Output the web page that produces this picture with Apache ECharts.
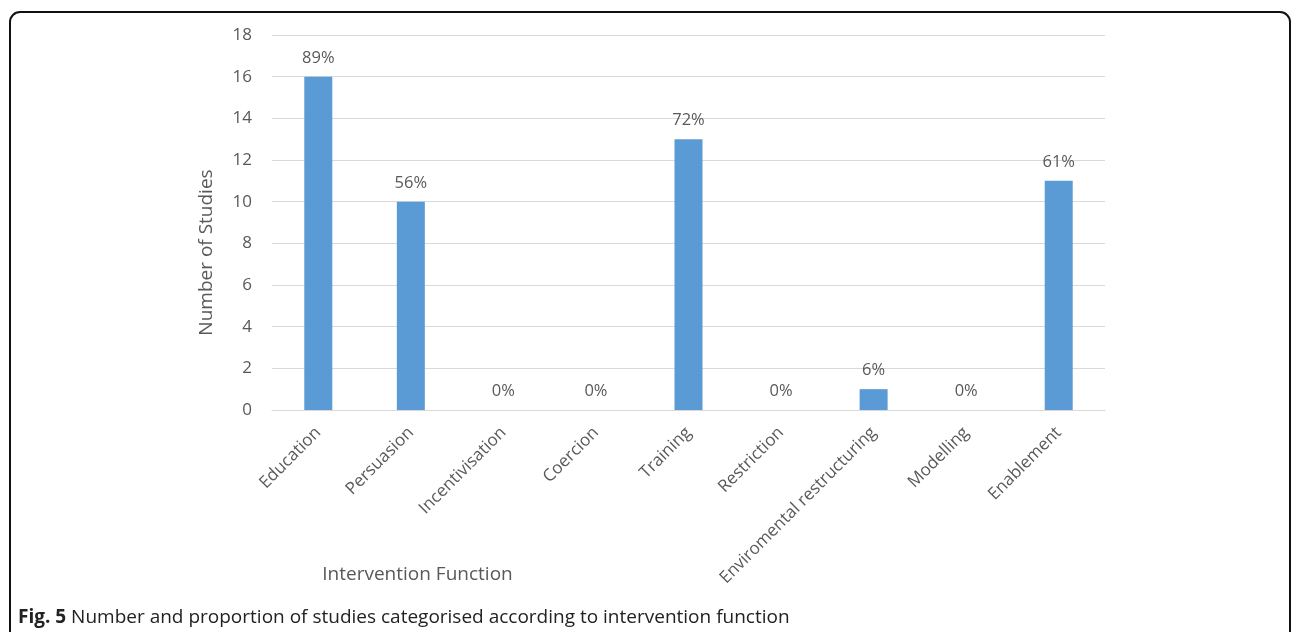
<!DOCTYPE html>
<html>
<head>
<meta charset="utf-8">
<script src="https://cdn.jsdelivr.net/npm/echarts@6/dist/echarts.min.js"></script>
<style>
  html, body { margin: 0; padding: 0; background: #fff; }
  #chart { width: 1292px; height: 632px; }
</style>
</head>
<body>
<div id="chart"></div>
<script>
// categories and values
var categories = ['Education', 'Persuasion', 'Incentivisation', 'Coercion', 'Training',
  'Restriction', 'Enviromental restructuring', 'Modelling', 'Enablement'];
var studyCounts = [16, 10, 0, 0, 13, 0, 1, 0, 11];
var proportions = ['89%', '56%', '0%', '0%', '72%', '0%', '6%', '0%', '61%'];
var yTicks = { min: 0, max: 18, interval: 2 };

var myChart = echarts.init(document.getElementById('chart'));

var textColor = '#595959';
var font = '"Open Sans", "Noto Sans", sans-serif';

var option = {
  animation: false,
  textStyle: { fontFamily: font },
  graphic: [{
    // outer frame with rounded top corners
    type: 'rect',
    shape: { x: 10, y: 12, width: 1280, height: 640, r: [10, 10, 0, 0] },
    style: { fill: 'none', stroke: '#111', lineWidth: 2 },
    z: -1
  }],
  title: [{
    text: '{b|Fig. 5} Number and proportion of studies categorised according to intervention function',
    left: 13,
    top: 603,
    textStyle: {
      fontFamily: font,
      fontSize: 19,
      fontWeight: 'normal',
      color: '#222',
      rich: {
        b: { fontFamily: font, fontSize: 19, fontWeight: 'bold', color: '#222' }
      }
    }
  }],
  grid: { left: 272, right: 187, top: 35, bottom: 222 },
  xAxis: {
    type: 'category',
    data: categories,
    name: 'Intervention Function',
    nameLocation: 'middle',
    nameGap: 155,
    nameMoveOverlap: false,
    nameTextStyle: { fontFamily: font, fontSize: 19, color: textColor, padding: [0, 542, 0, 0] },
    axisLine: { lineStyle: { color: '#d9d9d9', width: 1 } },
    axisTick: { show: false },
    axisLabel: { rotate: 45, fontSize: 17, color: textColor, margin: 20, interval: 0, fontFamily: font }
  },
  yAxis: {
    type: 'value',
    min: yTicks.min,
    max: yTicks.max,
    interval: yTicks.interval,
    name: 'Number of Studies',
    nameLocation: 'middle',
    nameGap: 56,
    nameTextStyle: { fontFamily: font, fontSize: 19, color: textColor, padding: [0, 60, 0, 0] },
    axisLine: { show: false },
    axisTick: { show: false },
    axisLabel: { fontSize: 17, color: textColor, margin: 20, fontFamily: font },
    splitLine: { lineStyle: { color: '#d9d9d9', width: 1 } }
  },
  series: [{
    type: 'bar',
    data: studyCounts,
    barWidth: 28,
    itemStyle: { color: '#5b9bd5' },
    label: {
      show: true,
      position: 'top',
      distance: 10,
      fontSize: 16.5,
      color: textColor,
      fontFamily: font,
      formatter: function (p) { return proportions[p.dataIndex]; }
    }
  }]
};

myChart.setOption(option);
</script>
</body>
</html>
